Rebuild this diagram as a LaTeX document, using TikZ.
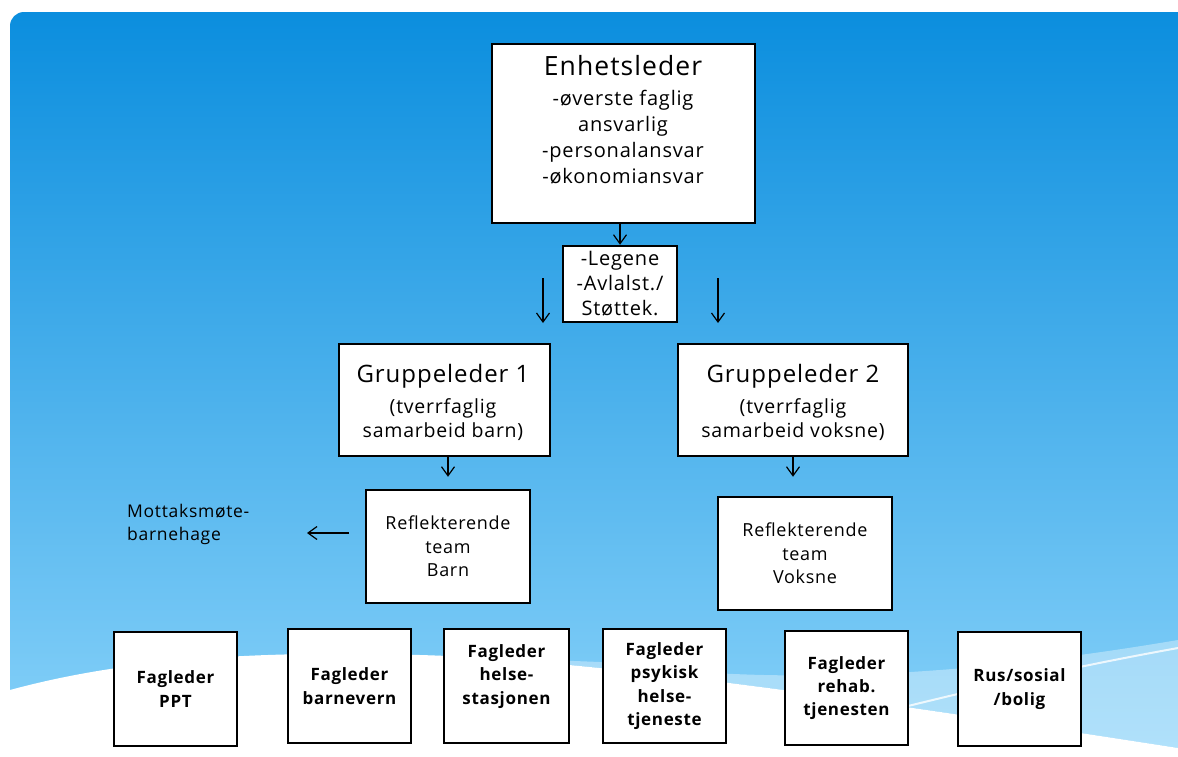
\documentclass[tikz,border=0pt]{standalone}
\usepackage{fontspec}
\setmainfont{Open Sans}[LetterSpace=4]
\usetikzlibrary{arrows.meta}
\definecolor{bgtop}{RGB}{11,142,222}
\definecolor{bgmid}{RGB}{75,168,234}
\definecolor{bgbot}{RGB}{140,212,250}
\newcommand\fsz[2]{\fontsize{#1}{#2}\selectfont}
\begin{document}
\begin{tikzpicture}[x=1pt,y=-1pt,
  box/.style={draw=black,line width=2.5pt,fill=white,inner sep=0pt,align=center},
  arr/.style={-{Straight Barb[length=9pt,width=13pt]},line width=1.2pt},
  txt/.style={anchor=base,inner sep=0pt},
  fag/.style={box,minimum width=123pt,minimum height=114pt,font=\bfseries\fsz{17}{23.3}},
  refl/.style={box,minimum height=113pt,font=\fsz{18}{23.5}}]
\useasboundingbox (0,0) rectangle (1178,756);
% background
\fill[white] (0,0) rectangle (1178,756);
\shade[top color=bgtop,middle color=bgmid,bottom color=bgbot,rounded corners=14pt]
  (10,12) rectangle (1200,780);
\fill[white] (10,690) .. controls (120,660) and (250,650) .. (420,655)
  .. controls (600,660) and (900,705) .. (1178,748) -- (1178,760) -- (0,760) -- (0,690) -- cycle;
\fill[white,opacity=0.35] (420,655) .. controls (600,660) and (900,705) .. (1178,748)
  -- (1178,640) .. controls (1000,670) and (800,690) .. (600,662) -- cycle;
\draw[white,opacity=0.8,line width=2pt] (700,760) .. controls (850,720) and (1000,680) .. (1178,648);
% Enhetsleder
\node[box,minimum width=263pt,minimum height=179pt] (enh) at (623.5,133.5) {};
\node[txt,font=\fsz{26.5}{30}] (enh1) at (623,75) {Enhetsleder};
\node[txt,font=\fsz{20}{26}] (enh2) at (623,105) {-øverste faglig};
\node[txt,font=\fsz{20}{26}] (enh3) at (623,131) {ansvarlig};
\node[txt,font=\fsz{20}{26}] (enh4) at (623,157) {-personalansvar};
\node[txt,font=\fsz{20}{26}] (enh5) at (623,183) {-økonomiansvar};
% Legene
\node[box,minimum width=114pt,minimum height=76pt,font=\fsz{20}{25}] (leg) at (620,284)
  {-Legene\\-Avlalst./\\Støttek.};
% Gruppeledere
\node[box,minimum width=211pt,minimum height=112pt] (g1) at (444.5,400) {};
\node[txt,font=\fsz{24}{28}] (g1a) at (443,382) {Gruppeleder 1};
\node[txt,font=\fsz{19.5}{25}] (g1b) at (443,413) {(tverrfaglig};
\node[txt,font=\fsz{19.5}{25}] (g1c) at (443,437) {samarbeid barn)};
\node[box,minimum width=230pt,minimum height=112pt] (g2) at (793,400) {};
\node[txt,font=\fsz{24}{28}] (g2a) at (793,382) {Gruppeleder 2};
\node[txt,font=\fsz{19.5}{25}] (g2b) at (793,413) {(tverrfaglig};
\node[txt,font=\fsz{19.5}{25}] (g2c) at (793,437) {samarbeid voksne)};
% Reflekterende team
\node[refl,minimum width=164pt] (rb) at (448,546.5) {Reflekterende\\team\\Barn};
\node[refl,minimum width=174pt] (rv) at (805,553.5) {Reflekterende\\team\\Voksne};
% Mottaksmote
\node[anchor=west,align=left,inner sep=0pt,font=\fsz{17.5}{23}] (mott) at (127,524)
  {Mottaksmøte-\\barnehage};
\coordinate (ma) at (349,533);
\coordinate (mb) at (307,533);
% Fagledere
\node[fag] (ppt) at (175.5,689) {Fagleder\\PPT};
\node[fag] (bv) at (349.5,686) {Fagleder\\barnevern};
\node[fag,minimum width=125pt] (hs) at (506.5,686) {Fagleder\\helse-\\stasjonen\\ };
\node[fag] (ps) at (664.5,686) {Fagleder\\psykisk\\helse-\\tjeneste};
\node[fag] (rh) at (846.5,688) {Fagleder\\rehab.\\tjenesten};
\node[fag] (rus) at (1019.5,689) {Rus/sosial\\/bolig};
% arrows
\coordinate (fa1) at (543,278);
\coordinate (fa1e) at (543,323);
\coordinate (fa2) at (718,278);
\coordinate (fa2e) at (718,323);
\draw[arr] (enh.south -| leg.north) -- (leg.north);
\draw[arr] (fa1) -- (fa1e);
\draw[arr] (fa2) -- (fa2e);
\draw[arr] (g1.south -| rb.north) -- ([yshift=12pt]rb.north);
\draw[arr] (g2.south) -- ([yshift=19pt]rv.north -| g2.south);
\draw[arr] (ma) -- (mb);
\end{tikzpicture}
\end{document}
